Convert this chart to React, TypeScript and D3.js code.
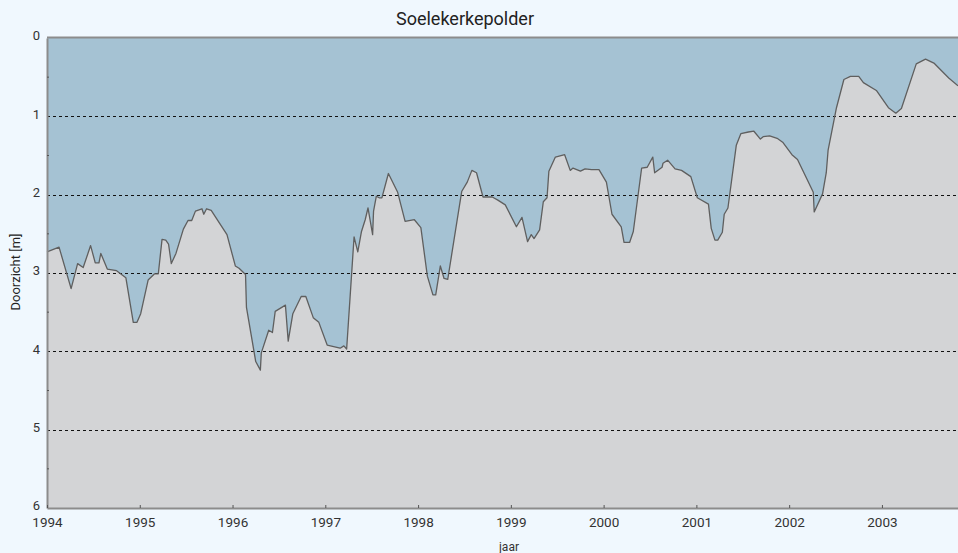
import { useEffect, useRef } from "react"
import * as d3 from "d3"

// measurement dates (decimal year) and Secchi depth [m]
const dates = [
  1994.0, 1994.13, 1994.26, 1994.33, 1994.39, 1994.47, 1994.52, 1994.56, 1994.58, 1994.65,
  1994.75, 1994.85, 1994.93, 1994.97, 1995.01, 1995.09, 1995.16, 1995.2, 1995.24, 1995.28,
  1995.31, 1995.34, 1995.39, 1995.47, 1995.52, 1995.56, 1995.6, 1995.67, 1995.69, 1995.72,
  1995.77, 1995.94, 1996.03, 1996.07, 1996.14, 1996.15, 1996.25, 1996.3, 1996.31, 1996.39,
  1996.43, 1996.46, 1996.57, 1996.6, 1996.65, 1996.74, 1996.79, 1996.87, 1996.93, 1997.02,
  1997.16, 1997.2, 1997.23, 1997.31, 1997.35, 1997.39, 1997.43, 1997.46, 1997.51, 1997.52,
  1997.55, 1997.58, 1997.61, 1997.68, 1997.78, 1997.86, 1997.96, 1998.03, 1998.1, 1998.16,
  1998.19, 1998.24, 1998.28, 1998.32, 1998.47, 1998.53, 1998.58, 1998.63, 1998.7, 1998.8,
  1998.86, 1998.94, 1999.06, 1999.12, 1999.18, 1999.22, 1999.25, 1999.31, 1999.35, 1999.39,
  1999.41, 1999.48, 1999.58, 1999.64, 1999.67, 1999.75, 1999.8, 1999.87, 1999.95, 2000.03,
  2000.09, 2000.19, 2000.22, 2000.28, 2000.32, 2000.41, 2000.47, 2000.53, 2000.55, 2000.63,
  2000.64, 2000.69, 2000.77, 2000.84, 2000.94, 2001.01, 2001.13, 2001.16, 2001.2, 2001.23,
  2001.28, 2001.3, 2001.34, 2001.43, 2001.48, 2001.56, 2001.62, 2001.69, 2001.72, 2001.79,
  2001.87, 2001.93, 2002.03, 2002.09, 2002.26, 2002.27, 2002.36, 2002.4, 2002.42, 2002.51,
  2002.59, 2002.66, 2002.75, 2002.8, 2002.94, 2003.07, 2003.15, 2003.21, 2003.37, 2003.47,
  2003.56, 2003.72, 2003.82,
]

const doorzicht = [
  2.73, 2.67, 3.2, 2.88, 2.93, 2.65, 2.87, 2.87, 2.75, 2.95,
  2.97, 3.06, 3.63, 3.63, 3.52, 3.09, 3.01, 3.01, 2.57, 2.58,
  2.63, 2.88, 2.75, 2.44, 2.33, 2.33, 2.21, 2.18, 2.25, 2.18,
  2.2, 2.51, 2.91, 2.94, 3.02, 3.44, 4.13, 4.24, 4.02, 3.73,
  3.76, 3.49, 3.41, 3.87, 3.52, 3.3, 3.3, 3.57, 3.63, 3.92,
  3.96, 3.93, 3.97, 2.54, 2.73, 2.47, 2.32, 2.17, 2.51, 2.21,
  2.02, 2.04, 2.04, 1.73, 1.97, 2.34, 2.32, 2.42, 3.04, 3.28,
  3.28, 2.91, 3.07, 3.08, 1.96, 1.84, 1.69, 1.72, 2.03, 2.03,
  2.07, 2.13, 2.41, 2.29, 2.6, 2.51, 2.56, 2.45, 2.09, 2.04,
  1.7, 1.52, 1.49, 1.69, 1.66, 1.7, 1.67, 1.68, 1.68, 1.84,
  2.25, 2.41, 2.61, 2.61, 2.47, 1.66, 1.65, 1.52, 1.72, 1.65,
  1.6, 1.56, 1.67, 1.69, 1.77, 2.04, 2.12, 2.43, 2.58, 2.58,
  2.48, 2.25, 2.17, 1.37, 1.22, 1.2, 1.19, 1.29, 1.26, 1.25,
  1.28, 1.33, 1.49, 1.55, 1.97, 2.22, 1.99, 1.72, 1.43, 0.89,
  0.53, 0.49, 0.49, 0.57, 0.67, 0.89, 0.96, 0.9, 0.33, 0.27,
  0.32, 0.51, 0.61,
]

const yearTicks = [1994, 1995, 1996, 1997, 1998, 1999, 2000, 2001, 2002, 2003]
const depthTicks = [0, 1, 2, 3, 4, 5, 6]
const minorTicks = [0.5, 1.5, 2.5, 3.5, 4.5, 5.5]

export default function App() {
  const svgRef = useRef<SVGSVGElement>(null)

  useEffect(() => {
    if (!svgRef.current) return
    document.body.style.margin = "0"

    const svg = d3.select(svgRef.current)
    svg.selectAll("*").remove()

    const width = 958
    const height = 553
    const margin = { top: 38, right: 0, bottom: 45, left: 47 }
    const innerWidth = width - margin.left - margin.right
    const innerHeight = height - margin.top - margin.bottom
    const font = "Roboto, 'Liberation Sans', sans-serif"

    const data = dates.map((d, i) => ({ t: d, v: doorzicht[i] }))

    const xScale = d3.scaleLinear().domain([1994, dates[dates.length - 1]]).range([0, innerWidth])
    const yScale = d3.scaleLinear().domain([0, 6]).range([0, innerHeight])

    svg.append("rect").attr("width", width).attr("height", height).attr("fill", "#f0f8fe")

    const g = svg.append("g").attr("transform", `translate(${margin.left}, ${margin.top})`)

    // water column (blue) and below-visibility (grey)
    g.append("rect").attr("width", innerWidth).attr("height", innerHeight).attr("fill", "#a5c2d3")

    const area = d3
      .area<{ t: number; v: number }>()
      .x((d) => xScale(d.t))
      .y0(innerHeight)
      .y1((d) => yScale(d.v))

    g.append("path").datum(data).attr("d", area).attr("fill", "#d3d4d6")

    // dashed grid
    g.selectAll("line.grid")
      .data(depthTicks.filter((d) => d > 0 && d < 6))
      .join("line")
      .attr("class", "grid")
      .attr("x1", 0)
      .attr("x2", innerWidth)
      .attr("y1", (d) => Math.round(yScale(d)) + 0.5)
      .attr("y2", (d) => Math.round(yScale(d)) + 0.5)
      .attr("stroke", "#111")
      .attr("stroke-width", 1)
      .attr("stroke-dasharray", "3,3")

    const line = d3
      .line<{ t: number; v: number }>()
      .x((d) => xScale(d.t))
      .y((d) => yScale(d.v))

    g.append("path")
      .datum(data)
      .attr("d", line)
      .attr("fill", "none")
      .attr("stroke", "#5f5f5f")
      .attr("stroke-width", 1.3)
      .attr("stroke-linejoin", "round")

    // frame line on top
    g.append("line").attr("x1", 0).attr("x2", innerWidth).attr("y1", -0.5).attr("y2", -0.5)
      .attr("stroke", "#8c8c8c").attr("stroke-width", 2)

    // y axis
    const yAxis = d3.axisLeft(yScale).tickValues(depthTicks).tickSize(0).tickPadding(7).tickFormat(d3.format("d"))
    const ya = g.append("g").call(yAxis)
    ya.select(".domain").attr("stroke", "#8c8c8c").attr("stroke-width", 2)
    ya.selectAll("text")
      .attr("dy", "0.15em")
      .attr("font-family", font)
      .attr("font-size", 13)
      .attr("fill", "#333")

    g.selectAll("line.minor")
      .data(minorTicks)
      .join("line")
      .attr("class", "minor")
      .attr("x1", 0)
      .attr("x2", 2)
      .attr("y1", (d) => yScale(d))
      .attr("y2", (d) => yScale(d))
      .attr("stroke", "#555")

    // x axis
    const xAxis = d3.axisBottom(xScale).tickValues(yearTicks).tickSizeInner(-3).tickSizeOuter(0).tickPadding(9).tickFormat(d3.format("d"))
    const xa = g.append("g").attr("transform", `translate(0, ${innerHeight})`).call(xAxis)
    xa.select(".domain").attr("stroke", "#8c8c8c").attr("stroke-width", 2)
    xa.selectAll(".tick line").attr("stroke", "#555")
    xa.selectAll("text").attr("font-family", font).attr("font-size", 13.5).attr("fill", "#333")

    // labels
    svg.append("text")
      .attr("x", 465)
      .attr("y", 25)
      .attr("text-anchor", "middle")
      .attr("font-family", font)
      .attr("font-size", 18)
      .attr("fill", "#222")
      .text("Soelekerkepolder")

    svg.append("text")
      .attr("transform", "rotate(-90)")
      .attr("x", -272)
      .attr("y", 20)
      .attr("text-anchor", "middle")
      .attr("font-family", font)
      .attr("font-size", 13)
      .attr("fill", "#222")
      .text("Doorzicht [m]")

    svg.append("text")
      .attr("x", 509)
      .attr("y", 551)
      .attr("text-anchor", "middle")
      .attr("font-family", font)
      .attr("font-size", 12)
      .attr("fill", "#333")
      .text("jaar")
  }, [])

  return (
    <div style={{ width: 958, height: 553 }}>
      <svg ref={svgRef} width={958} height={553} style={{ display: "block" }} />
    </div>
  )
}
